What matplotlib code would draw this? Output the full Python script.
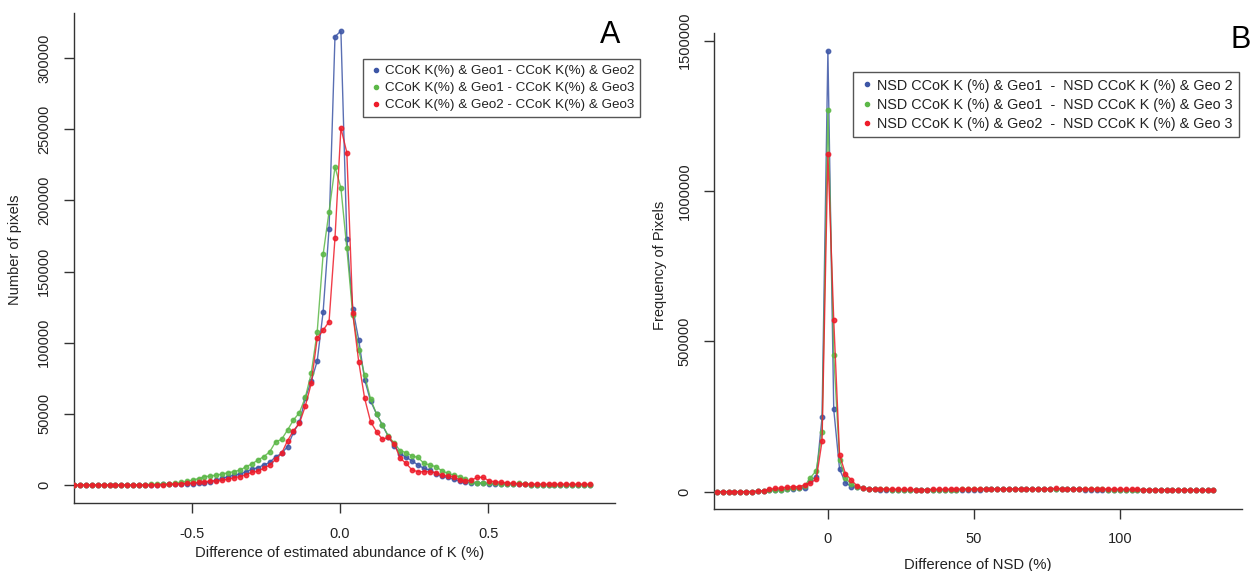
import numpy as np
import matplotlib
matplotlib.use("Agg")
import matplotlib.pyplot as plt
from matplotlib.lines import Line2D
from matplotlib.ticker import FuncFormatter

plt.rcParams['font.family'] = ['Liberation Sans', 'DejaVu Sans']

# ---- panel A: difference of estimated abundance of K (%), bin centres ----
k_a = np.arange(-45, 43)
x_a = np.round(0.003 + 0.02 * k_a, 3)

blue_a = [0, 0, 0, 0, 0, 0, 0, 0, 0, 0, 0, 0, 100, 200, 300,
          400, 500, 600, 800, 900, 1000, 1200, 1600, 2300, 3500, 4700, 5900, 7000, 7700,
          9400, 11000, 12200, 14100, 15900, 19900, 22200, 27000, 37000, 44000, 61000,
          73000, 87000, 121500, 180000, 315000, 319000,
          173000, 124000, 102000, 74000, 59000, 50000, 42000, 34000, 27500, 22000,
          19500, 17000, 14000, 11700, 10500, 8000, 6000, 5400, 4000, 2800, 2300, 1600,
          1400, 1200, 800, 700, 600, 600, 500, 500, 400,
          300, 300, 200, 200, 100, 100, 100, 0, 0, 0, 0]
green_a = [0, 0, 0, 0, 0, 0, 0, 0, 0, 0, 100, 200, 300, 400, 500,
           600, 800, 1200, 1800, 2500, 3500, 4500, 5900, 6300, 7000, 7700, 8700, 9400,
           10500, 12900, 14800, 17600, 19900, 23400, 30400, 32100, 38600, 45700, 50800,
           61600, 78500, 107500, 162000, 192000, 223400, 208700,
           166300, 119400, 95000, 77000, 60500, 49900, 42200, 34400, 29300, 24100,
           22700, 20400, 19400, 15200, 14100, 12900, 10100, 8200, 7000, 5900, 4000, 2300,
           1600, 1600, 1200, 1200, 700, 700, 700, 1200, 500,
           300, 300, 200, 200, 100, 100, 100, 0, 0, 0, 0]
red_a = [0, 0, 0, 0, 0, 0, 0, 0, 0, 0, 0, 0, 0, 100, 200,
         300, 400, 600, 900, 1200, 1500, 1900, 2300, 2800, 3000, 3300, 4200, 5200, 5900,
         7300, 8900, 9800, 11700, 14100, 18000, 22200, 31100, 38200, 43300, 55500,
         71400, 103000, 108800, 114700, 173500, 250800,
         233500, 120600, 86600, 60900, 44500, 37500, 32100, 33500, 28800, 18700,
         15200, 10500, 9400, 9400, 9400, 8700, 7000, 6300, 5900, 3500, 2800, 3500,
         5400, 5400, 2800, 2300, 1900, 1600, 1200, 900, 700,
         600, 600, 600, 600, 600, 600, 600, 600, 600, 600, 600]

labels_a = ["CCoK K(%) & Geo1 - CCoK K(%) & Geo2",
            "CCoK K(%) & Geo1 - CCoK K(%) & Geo3",
            "CCoK K(%) & Geo2 - CCoK K(%) & Geo3"]

# ---- panel B: difference of NSD (%), bin centres ----
k_b = np.arange(-19, 67)
x_b = 2 * k_b

blue_b = [0, 0, 0, 0, 0, 0, 0, 1000,
          2000, 4000, 5500, 6000, 8000, 9000, 11000, 13300, 36600, 50000, 247000, 1466700,
          274000, 74500, 30000, 16600, 15000, 11300, 8000, 7500, 7000, 7000,
          6500, 6500, 6000, 6000, 6000, 6000, 6000, 6000, 6500, 6500,
          6500, 6500, 7000, 7000, 7000, 7000, 7500, 7500, 7500, 7500,
          7500, 7500, 8000, 8000, 7500, 7500, 8000, 8000, 8000, 8000,
          8000, 7500, 7500, 7000, 7000, 7000, 7000, 7000, 6500, 6500,
          6500, 6000, 6000, 6000, 5500, 5500, 5500, 5000, 5000, 5000,
          4500, 4500, 4500, 4000, 4000, 4000]
green_b = [0, 0, 0, 0, 0, 0, 0, 1000,
           2500, 4500, 6000, 7000, 9000, 11000, 13000, 18000, 46000, 70000, 197000, 1270000,
           455000, 105000, 45000, 25000, 17000, 12000, 9500, 8500, 8000, 7500,
           7000, 7000, 6500, 6500, 6500, 6500, 6500, 7000, 7000, 7000,
           7000, 7000, 7500, 7500, 7500, 7500, 8000, 8000, 8000, 8000,
           8000, 8000, 8500, 8500, 8000, 8000, 8500, 8500, 8500, 8500,
           8500, 8000, 8000, 7500, 7500, 7500, 7500, 7000, 7000, 7000,
           6500, 6500, 6500, 6000, 6000, 6000, 5500, 5500, 5500, 5000,
           5000, 5000, 4500, 4500, 4500, 4500]
red_b = [0, 0, 0, 0, 0, 0, 500, 1500,
         3000, 8000, 11000, 12000, 15000, 16000, 17000, 22000, 30000, 41000, 168000, 1123000,
         571000, 122000, 60000, 39000, 19000, 11300, 10000, 9500, 9000, 8500,
         8000, 8000, 7500, 7500, 7000, 7000, 7000, 7500, 7500, 8000,
         8000, 8000, 8500, 8500, 8500, 9000, 9000, 9000, 9000, 9500,
         9500, 9500, 10000, 10000, 9500, 9500, 10000, 10000, 10500, 10000,
         10000, 9500, 9500, 9000, 9000, 9000, 8500, 8500, 8000, 8000,
         8000, 7500, 7500, 7000, 7000, 7000, 6500, 6500, 6000, 6000,
         6000, 5500, 5500, 5000, 5000, 5000]

labels_b = ["NSD CCoK K (%) & Geo1  -  NSD CCoK K (%) & Geo 2",
            "NSD CCoK K (%) & Geo1  -  NSD CCoK K (%) & Geo 3",
            "NSD CCoK K (%) & Geo2  -  NSD CCoK K (%) & Geo 3"]

colors = ["#3d56a6", "#5cb848", "#ee1c2a"]
txt = "#222222"

W, H = 1251, 571
fig = plt.figure(figsize=(W / 100, H / 100), dpi=100)


def box(l, r, t, b):
    return [l / W, 1 - b / H, (r - l) / W, (b - t) / H]


def style(ax, pad_x, pad_y, fs):
    for s in ["top", "right"]:
        ax.spines[s].set_visible(False)
    for s in ["left", "bottom"]:
        ax.spines[s].set_color("#333333")
        ax.spines[s].set_linewidth(1.0)
    ax.tick_params(axis="both", length=7, width=1.0, color="#333333",
                   labelcolor=txt, labelsize=fs)
    ax.tick_params(axis="x", pad=pad_x)
    ax.tick_params(axis="y", pad=pad_y)
    ax.yaxis.set_major_formatter(FuncFormatter(lambda v, p: "%d" % v))
    for lb in ax.get_yticklabels():
        lb.set_rotation(90)
        lb.set_va("center")


def draw(ax, x, series):
    for ys, c in zip(series, colors):
        ax.plot(x, ys, color=c, lw=1.0, alpha=0.85, marker="o", ms=3.2,
                mec=c, mfc=c, zorder=3)


def legend(ax, labels, fs, anchor):
    handles = [Line2D([], [], ls="none", marker="o", ms=3, color=c) for c in colors]
    lg = ax.legend(handles, labels, loc="upper left", bbox_to_anchor=anchor,
                   bbox_transform=fig.transFigure, borderaxespad=0, fontsize=fs,
                   fancybox=False, framealpha=1, edgecolor="#555555",
                   handletextpad=0.2, handlelength=1.0, labelspacing=0.35,
                   borderpad=0.45, labelcolor=txt)
    lg.get_frame().set_linewidth(1.0)


# panel A
ax1 = fig.add_axes(box(73.5, 615, 12.8, 503.2))
draw(ax1, x_a, [blue_a, green_a, red_a])
ax1.set_xlim(-0.8985, 0.927)
ax1.set_ylim(-12760, 331760)
ax1.set_xticks([-0.5, 0.0, 0.5])
ax1.set_xticklabels(["-0.5", "0.0", "0.5"])
ax1.set_yticks([0, 50000, 100000, 150000, 200000, 250000, 300000])
style(ax1, 10, 9, 10.5)
legend(ax1, labels_a, 9.6, (363 / W, 1 - 59 / H))
fig.text(340 / W, 1 - 553 / H, "Difference of estimated abundance of K (%)",
         ha="center", va="center", fontsize=10.7, color=txt)
fig.text(15 / W, 1 - 250 / H, "Number of pixels", rotation=90,
         ha="center", va="center", fontsize=10.5, color=txt)
fig.text(610 / W, 1 - 35 / H, "A", ha="center", va="center", fontsize=22, color="black")

# panel B
ax2 = fig.add_axes(box(714, 1242, 32.9, 509.3))
draw(ax2, x_b, [blue_b, green_b, red_b])
ax2.set_xlim(-39, 141.8)
ax2.set_ylim(-58700, 1526000)
ax2.set_xticks([0, 50, 100])
ax2.set_yticks([0, 500000, 1000000, 1500000])
style(ax2, 9, 9, 10.5)
legend(ax2, labels_b, 10.4, (853 / W, 1 - 72 / H))
fig.text(978 / W, 1 - 565 / H, "Difference of NSD (%)",
         ha="center", va="center", fontsize=10.7, color=txt)
fig.text(660 / W, 1 - 265 / H, "Frequency of Pixels", rotation=90,
         ha="center", va="center", fontsize=10.5, color=txt)
fig.text(1241 / W, 1 - 40 / H, "B", ha="center", va="center", fontsize=22, color="black")

fig.savefig("out.png", dpi=100)
